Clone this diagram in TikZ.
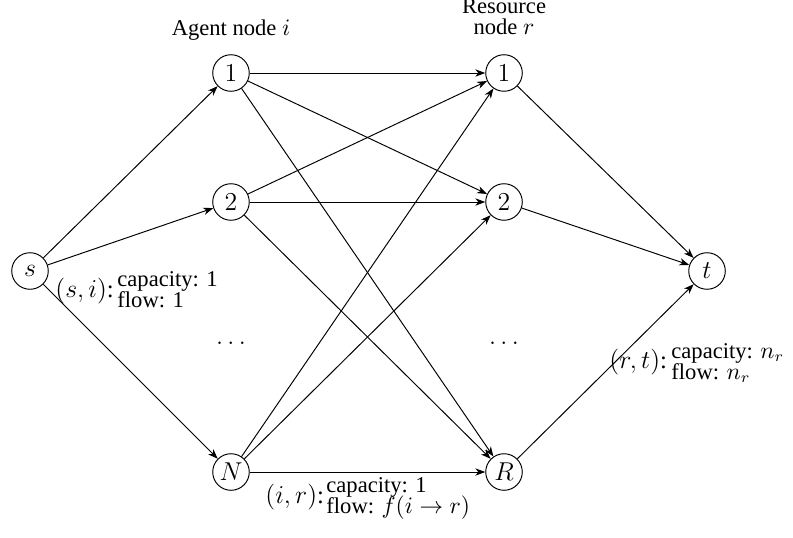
\documentclass[tikz,border=0pt]{standalone}
\usepackage[no-math]{fontspec}
\setmainfont{Liberation Serif}
\usetikzlibrary{arrows.meta}
\begin{document}
\begin{tikzpicture}[x=0.465pt,y=-0.465pt,
  vertex/.style={circle,draw,line width=0.45pt,minimum size=17pt,inner sep=0pt,font=\fontsize{12.5}{14}\selectfont},
  flowedge/.style={line width=0.45pt,-{Stealth[length=4.6pt,width=3.4pt,inset=1.4pt]}},
  lab/.style={inner sep=0pt,anchor=base west,font=\fontsize{10.5}{12.5}\selectfont},
  mathlab/.style={inner sep=0pt,anchor=base west,font=\fontsize{11.5}{13.5}\selectfont},
  head/.style={inner sep=0pt,anchor=base,font=\fontsize{10.5}{12}\selectfont},
  dotsnode/.style={inner sep=0pt,anchor=base,font=\fontsize{13}{15}\selectfont}]
\useasboundingbox (0,0) rectangle (793,537);
% nodes
\node[vertex] (s) at (30,271) {$s$};
\node[vertex] (a1) at (231,73) {$1$};
\node[vertex] (a2) at (231,202) {$2$};
\node[vertex] (aN) at (231,472) {$N$};
\node[vertex] (r1) at (504,73) {$1$};
\node[vertex] (r2) at (504,202) {$2$};
\node[vertex] (rR) at (504,472) {$R$};
\node[vertex] (t) at (707,271) {$t$};
\node[dotsnode] (ad) at (231,344) {$\dots$};
\node[dotsnode] (rd) at (504,344) {$\dots$};
% headings
\node[head] (agenthead) at (231,35) {Agent node $i$};
\node[head] (reshead1) at (504,13.5) {Resource};
\node[head] (reshead2) at (504,34) {node $r$};
% edges
\draw[flowedge] (s) -- (a1);
\draw[flowedge] (s) -- (a2);
\draw[flowedge] (s) -- (aN);
\draw[flowedge] (a1) -- (r1);
\draw[flowedge] (a1) -- (r2);
\draw[flowedge] (a1) -- (rR);
\draw[flowedge] (a2) -- (r1);
\draw[flowedge] (a2) -- (r2);
\draw[flowedge] (a2) -- (rR);
\draw[flowedge] (aN) -- (r1);
\draw[flowedge] (aN) -- (r2);
\draw[flowedge] (aN) -- (rR);
\draw[flowedge] (r1) -- (t);
\draw[flowedge] (r2) -- (t);
\draw[flowedge] (rR) -- (t);
% labels
\node[mathlab] (simath) at (55,297) {$(s,i)$:};
\node[lab] (sicap) at (117,286) {capacity: 1};
\node[lab] (siflow) at (117,307) {flow: 1};
\node[mathlab] (irmath) at (265,503) {$(i,r)$:};
\node[lab] (ircap) at (326,492.5) {capacity: 1};
\node[lab] (irflow) at (326,513.5) {flow: $f(i\to r)$};
\node[mathlab] (rtmath) at (609,368) {$(r,t)$:};
\node[lab] (rtcap) at (671,358) {capacity: $n_r$};
\node[lab] (rtflow) at (671,379) {flow: $n_r$};
\end{tikzpicture}
\end{document}
